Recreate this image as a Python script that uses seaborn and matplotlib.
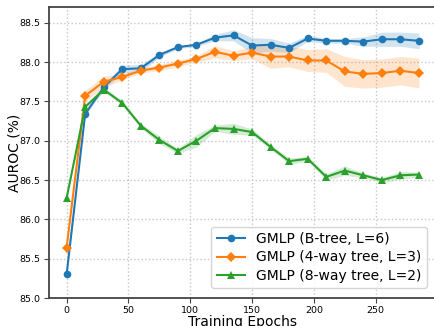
import numpy as np
import pandas as pd
import matplotlib
matplotlib.use("Agg")
import matplotlib.pyplot as plt
import seaborn as sns

epochs = [0, 15, 30, 45, 60, 75, 90, 105, 120, 135, 150, 165, 180, 195, 210, 225, 240, 255, 270, 285]

btree = [85.30, 87.34, 87.68, 87.91, 87.92, 88.09, 88.19, 88.22, 88.31, 88.34,
         88.21, 88.22, 88.18, 88.30, 88.27, 88.27, 88.26, 88.29, 88.29, 88.27]
btree_sd = [0.01, 0.02, 0.03, 0.05, 0.05, 0.03, 0.02, 0.02, 0.04, 0.07,
            0.10, 0.08, 0.06, 0.04, 0.03, 0.03, 0.06, 0.09, 0.09, 0.10]

four_way = [85.64, 87.57, 87.75, 87.81, 87.89, 87.93, 87.98, 88.04, 88.13, 88.08,
            88.12, 88.07, 88.07, 88.02, 88.02, 87.88, 87.85, 87.86, 87.89, 87.86]
four_way_sd = [0.01, 0.07, 0.07, 0.04, 0.03, 0.04, 0.04, 0.04, 0.08, 0.06,
               0.08, 0.15, 0.13, 0.14, 0.15, 0.19, 0.18, 0.18, 0.18, 0.19]

eight_way = [86.27, 87.43, 87.65, 87.48, 87.19, 87.01, 86.87, 87.00, 87.16, 87.15,
             87.11, 86.92, 86.74, 86.77, 86.54, 86.62, 86.56, 86.50, 86.56, 86.57]
eight_way_sd = [0.01, 0.03, 0.03, 0.03, 0.03, 0.05, 0.03, 0.08, 0.04, 0.07,
                0.04, 0.03, 0.04, 0.03, 0.04, 0.06, 0.03, 0.03, 0.05, 0.03]

labels = ["GMLP (B-tree, L=6)", "GMLP (4-way tree, L=3)", "GMLP (8-way tree, L=2)"]
means = [btree, four_way, eight_way]
sds = [btree_sd, four_way_sd, eight_way_sd]
colors = ["#1f77b4", "#ff7f0e", "#2ca02c"]
markers = ["o", "D", "^"]

df = pd.concat([pd.DataFrame({"epoch": epochs, "auroc": m, "model": lab})
                for m, lab in zip(means, labels)], ignore_index=True)

fig = plt.figure(figsize=(4.35, 3.26), dpi=100)
ax = fig.add_axes([49 / 435, 28 / 326, (436.6 - 49) / 435, (298 - 7) / 326])

for m, s, c in zip(means, sds, colors):
    m = np.array(m); s = np.array(s)
    ax.fill_between(epochs, m - s, m + s, color=c, alpha=0.2, linewidth=0)

sns.lineplot(data=df, x="epoch", y="auroc", hue="model", style="model",
             hue_order=labels, style_order=labels, palette=colors,
             markers=dict(zip(labels, markers)), dashes=False,
             markersize=5.5, linewidth=1.5, markeredgewidth=0, ax=ax)

ax.set_xlim(-14.25, 299.25)
ax.set_ylim(85.0, 88.7)
ax.set_xticks([0, 50, 100, 150, 200, 250])
ax.set_yticks([85.0, 85.5, 86.0, 86.5, 87.0, 87.5, 88.0, 88.5])
ax.set_yticklabels(["85.0", "85.5", "86.0", "86.5", "87.0", "87.5", "88.0", "88.5"])
ax.grid(True, linestyle=":", color="#c8c8c8", linewidth=1.0)
ax.set_axisbelow(True)
for sp in ax.spines.values():
    sp.set_color("#444444")
    sp.set_linewidth(1.3)
ax.tick_params(labelsize=6.8, color="#444444", length=3.5, pad=2.5)
ax.set_xlabel("Training Epochs", fontsize=10)
ax.set_ylabel("AUROC (%)", fontsize=10)
ax.xaxis.set_label_coords(0.5, -0.058)
ax.yaxis.set_label_coords(-0.072, 0.5)

leg = ax.legend(loc="lower right", fontsize=10, frameon=True, fancybox=True,
                bbox_to_anchor=(0.992, 0.01), handlelength=2.0, borderpad=0.4,
                labelspacing=0.3, handletextpad=0.8)
leg.get_frame().set_edgecolor("#cccccc")

fig.savefig("out.png", dpi=100)
